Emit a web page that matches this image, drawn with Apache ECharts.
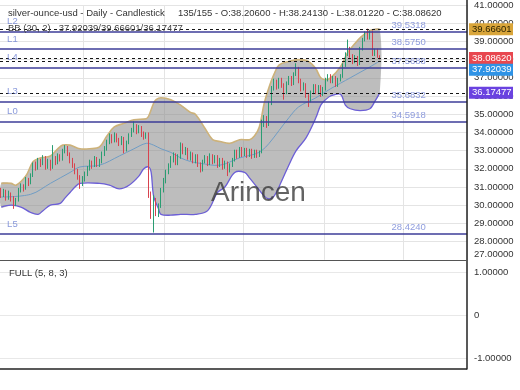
<!DOCTYPE html>
<html><head><meta charset="utf-8">
<script src="https://cdn.jsdelivr.net/npm/echarts@6/dist/echarts.min.js"></script>
<style>html,body{margin:0;padding:0;background:#fff}#c{width:520px;height:390px}</style>
</head><body><div id="c"></div>
<script>
// ---- data ----
const slotCount = 190;
const opens = [30.70,30.55,30.75,30.40,30.62,30.35,30.10,30.25,30.80,31.05,
30.90,31.40,31.25,31.60,32.20,32.05,32.45,32.30,32.60,32.15,
32.40,32.10,32.55,32.35,32.70,32.55,32.95,33.15,32.80,32.45,
32.20,31.85,31.55,31.20,31.45,31.70,32.00,32.35,32.20,32.55,
32.25,32.40,32.80,33.10,33.45,33.80,33.55,33.85,33.60,33.40,
33.65,33.10,33.45,33.85,34.10,34.35,34.05,34.25,33.90,33.75,
33.90,30.60,29.45,30.30,29.60,29.95,30.80,31.35,31.85,32.15,
32.55,32.75,32.30,32.65,33.30,32.90,33.10,32.60,32.80,32.40,
32.70,32.20,31.95,32.40,32.60,32.30,32.70,32.40,32.65,32.20,
32.50,32.10,32.30,31.90,32.20,32.50,32.95,32.70,33.10,32.80,
33.05,32.75,33.00,32.70,32.95,32.75,32.90,34.60,34.80,34.40,
35.60,36.40,36.80,36.50,36.90,36.60,36.20,36.70,37.00,36.70,
37.20,37.50,36.80,36.40,36.60,36.00,35.75,36.20,36.55,36.20,
36.50,36.10,36.40,36.90,37.10,36.80,37.00,36.60,36.90,37.10,
37.70,38.30,38.60,38.20,37.90,38.10,37.80,38.60,39.10,39.40,
39.20,39.50,38.30,38.50,38.206];
const closes = [30.55,30.75,30.40,30.62,30.35,30.10,30.25,30.80,31.05,30.90,
31.40,31.25,31.60,32.20,32.05,32.45,32.30,32.60,32.15,32.40,
32.10,32.55,32.35,32.70,32.55,32.95,33.15,32.80,32.45,32.20,
31.85,31.55,31.20,31.45,31.70,32.00,32.35,32.20,32.55,32.25,
32.40,32.80,33.10,33.45,33.80,33.55,33.85,33.60,33.40,33.65,
33.10,33.45,33.85,34.10,34.35,34.05,34.25,33.90,33.75,33.90,
30.60,29.45,30.30,29.60,29.95,30.80,31.35,31.85,32.15,32.55,
32.75,32.30,32.65,33.30,32.90,33.10,32.60,32.80,32.40,32.70,
32.20,31.95,32.40,32.60,32.30,32.70,32.40,32.65,32.20,32.50,
32.10,32.30,31.90,32.20,32.50,32.95,32.70,33.10,32.80,33.05,
32.75,33.00,32.70,32.95,32.75,32.90,34.60,34.80,34.40,35.60,
36.40,36.80,36.50,36.90,36.60,36.20,36.70,37.00,36.70,37.20,
37.50,36.80,36.40,36.60,36.00,35.75,36.20,36.55,36.20,36.50,
36.10,36.40,36.90,37.10,36.80,37.00,36.60,36.90,37.10,37.70,
38.30,38.60,38.20,37.90,38.10,37.80,38.60,39.10,39.40,39.20,
39.50,38.30,38.50,38.20,38.0862];
const highs = [30.95,30.90,30.85,30.80,30.70,30.50,30.40,30.95,31.20,31.15,
31.55,31.50,31.75,32.35,32.40,32.60,32.55,32.75,32.70,32.55,
32.50,33.30,32.70,32.85,32.80,33.10,33.30,33.25,32.90,32.60,
32.30,32.00,31.65,31.60,31.85,32.15,32.50,32.45,32.70,32.65,
32.55,32.95,33.25,33.60,33.95,33.90,34.00,33.95,33.70,33.80,
33.75,33.55,33.95,34.25,34.60,34.45,34.40,34.35,34.05,34.00,
34.00,30.75,30.55,30.40,30.10,30.95,31.50,31.95,32.30,32.70,
32.90,32.85,32.80,33.45,33.40,33.20,33.15,32.95,32.90,32.80,
32.80,32.35,32.50,32.75,32.70,32.85,32.80,32.75,32.75,32.60,
32.60,32.45,32.40,32.30,32.60,33.05,33.05,33.20,33.20,33.15,
33.15,33.10,33.10,33.05,33.05,33.00,34.70,34.95,34.90,35.70,
36.55,36.95,36.90,37.00,37.00,36.70,36.80,37.10,37.10,37.30,
37.80,37.60,36.95,36.75,36.70,36.10,36.30,36.65,36.65,36.60,
36.60,36.50,37.00,37.20,37.20,37.10,37.10,37.00,37.20,37.80,
38.40,39.10,38.70,38.30,38.25,38.20,38.70,39.20,39.55,39.70,
39.60,39.60,38.60,38.60,38.2413];
const lows = [30.40,30.45,30.25,30.30,30.20,29.80,29.95,30.20,30.70,30.75,
30.85,31.05,31.15,31.55,31.90,31.95,32.10,32.20,31.95,32.00,
31.90,32.00,32.20,32.25,32.40,32.45,32.85,32.70,32.30,32.05,
31.70,31.40,30.90,31.05,31.30,31.60,31.90,32.00,32.10,32.10,
32.10,32.30,32.70,33.00,33.35,33.40,33.45,33.45,33.25,33.30,
32.85,32.95,33.35,33.75,34.00,33.90,33.95,33.75,33.60,33.65,
30.40,29.25,28.50,29.40,29.35,29.85,30.70,31.20,31.70,32.05,
32.35,32.20,32.20,32.55,32.80,32.75,32.50,32.45,32.30,32.30,
32.10,31.80,31.85,32.30,32.15,32.20,32.25,32.30,32.05,32.10,
31.95,32.00,31.60,31.80,32.10,32.40,32.55,32.60,32.65,32.70,
32.60,32.65,32.55,32.60,32.60,32.65,32.85,34.30,34.25,34.35,
35.50,36.30,36.35,36.40,36.45,35.80,36.10,36.60,36.55,36.60,
37.10,36.70,36.25,36.30,35.90,35.40,35.65,36.10,36.10,36.10,
35.95,36.00,36.30,36.80,36.70,36.70,36.50,36.50,36.80,37.00,
37.60,38.20,38.10,37.75,37.80,37.65,37.70,38.50,39.00,39.10,
39.10,38.20,38.20,38.10,38.0122];

// Bollinger band (20,2) at sample candles
const upperIdx = [0,4,6,10,13,16,20,23,25,28,32,36,40,43,46,50,54,59,60,62,63,65,69,73,77,79,83,86,89,93,97,101,103,105,107,109,111,113,117,121,125,128,130,132,134,138,141,144,146,150,154];
const upperVal = [31.2,31.2,31.1,31.6,32.4,32.6,32.7,33.1,33.3,33.3,33.1,33.1,33.2,33.8,34.3,34.5,34.7,34.75,34.9,35.6,35.8,35.9,35.8,35.5,35.1,35.0,34.2,33.6,33.5,33.4,33.6,33.6,33.8,34.3,35.6,36.5,37.2,37.7,37.9,38.0,37.9,37.5,37.0,36.9,37.0,37.6,38.4,38.9,39.2,39.6,39.666];
const lowerIdx = [0,4,8,12,15,17,20,24,26,28,30,32,40,44,48,52,56,58,60,61,62,64,65,69,73,79,84,88,91,95,99,101,104,107,109,111,114,117,120,124,128,130,132,134,138,140,142,146,150,152,154];
const lowerVal = [29.9,30.0,29.9,29.6,29.5,29.7,30.0,30.1,30.4,30.7,31.0,31.2,31.2,31.1,30.9,31.1,31.6,32.0,32.1,31.8,30.5,29.8,29.5,29.45,29.5,29.5,29.7,30.7,31.0,31.8,31.8,31.5,31.0,30.5,30.35,30.5,31.3,32.2,33.0,33.7,34.8,35.5,35.8,36.0,36.1,35.5,35.3,35.2,35.3,35.7,36.175];
const midIdx = [0,12,20,28,32,40,48,54,59,62,65,69,73,77,81,89,97,103,106,109,113,117,121,128,134,138,142,146,150,154];
const midVal = [30.45,30.6,31.2,31.8,32.1,32.2,32.7,33.1,33.4,33.3,33.1,32.9,32.6,32.4,32.3,32.2,32.6,32.8,33.0,33.4,34.1,34.8,35.4,35.9,36.4,36.7,37.0,37.3,37.6,37.92];

// horizontal levels
const levelNames = ['L2','L1','L4','L3','L0','L5'];
const levelValues = [39.5318,38.5750,37.5688,35.6832,34.5918,28.4240];
const levelTexts = ['39.5318','38.5750','37.5688','35.6832','34.5918','28.4240'];
// current values (BB middle/upper/lower, close)
const tagValues = [39.66601,38.08620,37.92039,36.17477];
const tagColors = ['#d9a53a','#e8474f','#2f93e6','#6a42e0'];
const tagText = ['#2a2200','#ffffff','#ffffff','#ffffff'];
const gridSlots = [34,67,99,132,164];
const priceMin = 27, priceMax = 41;
const oscTicks = [-1,0,1];

// ---- chart ----
const FONT = 'Liberation Sans, Arial, sans-serif';
const chart = echarts.init(document.getElementById('c'));
const cats = Array.from({length: slotCount}, (_, i) => String(i));
const candleData = opens.map((o, i) => [o, closes[i], lows[i], highs[i]]);

chart.setOption({
  animation: false,
  grid: [
    {left: 0, right: 53, top: 2, height: 257.8},
    {left: 0, right: 53, top: 272, height: 86}
  ],
  xAxis: [
    {type: 'category', data: cats, gridIndex: 0, boundaryGap: true,
     axisLine: {show: false}, axisTick: {show: false}, axisLabel: {show: false},
     splitLine: {show: true, interval: (i) => gridSlots.includes(i), lineStyle: {color: '#e4e4e4', width: 1}}},
    {type: 'category', data: cats, gridIndex: 1,
     axisLine: {show: false}, axisTick: {show: false}, axisLabel: {show: false}, splitLine: {show: false}}
  ],
  yAxis: [
    {type: 'value', gridIndex: 0, position: 'right', min: priceMin, max: priceMax, interval: 1,
     axisLine: {show: false}, axisTick: {show: false},
     splitLine: {lineStyle: {color: '#e4e4e4', width: 1}},
     axisLabel: {margin: 7, fontSize: 9.5, color: '#333', fontFamily: FONT,
       formatter: v => v.toFixed(5), verticalAlignMinLabel: 'bottom'}},
    {type: 'value', gridIndex: 1, position: 'right', min: -1, max: 1, interval: 1,
     axisLine: {show: false}, axisTick: {show: false},
     splitLine: {lineStyle: {color: '#e8e8e8', width: 1}},
     axisLabel: {margin: 7, fontSize: 9.5, color: '#333', fontFamily: FONT,
       formatter: v => v === 0 ? '0' : v.toFixed(5)}}
  ],
  series: [
    {type: 'custom', xAxisIndex: 0, yAxisIndex: 0, z: 1, silent: true,
     data: upperIdx.map((ix, k) => [ix, upperVal[k]]),
     encode: {x: 0, y: 1},
     renderItem: function (params, api) {
       if (params.dataIndex !== 0) return null;
       const up = upperIdx.map((ix, k) => api.coord([ix, upperVal[k]]));
       const lo = lowerIdx.map((ix, k) => api.coord([ix, lowerVal[k]]));
       const md = midIdx.map((ix, k) => api.coord([ix, midVal[k]]));
       const sm = 0.35;
       return {type: 'group', children: [
         {type: 'polygon', shape: {points: up.concat(lo.slice().reverse()), smooth: sm},
          style: {fill: 'rgba(135,135,135,0.55)', stroke: 'none'}},
         {type: 'polyline', shape: {points: md, smooth: sm}, style: {stroke: '#6f9cc4', lineWidth: 1, fill: 'none'}},
         {type: 'polyline', shape: {points: up, smooth: sm}, style: {stroke: '#cdb27a', lineWidth: 1.6, fill: 'none'}},
         {type: 'polyline', shape: {points: lo, smooth: sm}, style: {stroke: '#6c5fd6', lineWidth: 1.3, fill: 'none'}}
       ]};
     }},
    {type: 'candlestick', xAxisIndex: 0, yAxisIndex: 0, z: 3, data: candleData, barMaxWidth: 1.8,
     itemStyle: {color: '#2a9d72', color0: '#d8434f', borderColor: '#2a9d72', borderColor0: '#d8434f', borderWidth: 1},
     markLine: {symbol: 'none', silent: true, label: {show: false},
       data: levelValues.map(v => ({yAxis: v, lineStyle: {color: '#3d3d99', width: 1.5, type: 'solid'}}))
         .concat(tagValues.map(v => ({yAxis: v, lineStyle: {color: '#151515', width: 1, type: [3, 3]}})))}},
    {type: 'scatter', xAxisIndex: 0, yAxisIndex: 0, z: 6, symbolSize: 1, silent: true,
     itemStyle: {color: 'transparent'},
     data: levelValues.map((v, k) => ({value: [3, v], label: {formatter: levelNames[k]}})),
     label: {show: true, position: [-1, -9.5], align: 'left', verticalAlign: 'middle', color: '#6c7fd2', fontSize: 9.5, fontFamily: FONT}},
    {type: 'scatter', xAxisIndex: 0, yAxisIndex: 0, z: 6, symbolSize: 1, silent: true,
     itemStyle: {color: 'transparent'},
     data: levelValues.map((v, k) => ({value: [159, v], label: {formatter: levelTexts[k]}})),
     label: {show: true, position: [0, -6], align: 'left', verticalAlign: 'middle', color: '#7385d6', fontSize: 9.5, fontFamily: FONT}},
    {type: 'line', xAxisIndex: 1, yAxisIndex: 1, data: [], showSymbol: false}
  ]
});

// value tags on the right axis, positioned through the axis scale
const tags = tagValues.map((v, k) => ({v, k, y: chart.convertToPixel({yAxisIndex: 0}, v)}))
  .sort((a, b) => a.y - b.y);
for (let i = 1; i < tags.length; i++) {
  if (tags[i].y < tags[i - 1].y + 11.8) tags[i].y = tags[i - 1].y + 11.8;
}
const tagGraphics = [];
tags.forEach(t => {
  tagGraphics.push({type: 'rect', shape: {x: 469, y: t.y - 6, width: 44, height: 12}, style: {fill: tagColors[t.k]}, z: 20});
  tagGraphics.push({type: 'text', x: 472, y: t.y, z: 21,
    style: {text: t.v.toFixed(5), fill: tagText[t.k], font: '9.5px ' + FONT, verticalAlign: 'middle', align: 'left'}});
});

chart.setOption({
  graphic: [
    {type: 'line', shape: {x1: 467, y1: 0, x2: 467, y2: 369.5}, style: {stroke: '#222', lineWidth: 1.5}, z: 10},
    {type: 'line', shape: {x1: 0, y1: 260.5, x2: 467, y2: 260.5}, style: {stroke: '#555', lineWidth: 1}, z: 10},
    {type: 'line', shape: {x1: 0, y1: 369, x2: 467, y2: 369}, style: {stroke: '#222', lineWidth: 1.5}, z: 10},
    {type: 'text', x: 8, y: 13, z: 12, style: {text: 'silver-ounce-usd - Daily - Candlestick', fill: '#333', font: '9.5px ' + FONT, verticalAlign: 'middle'}},
    {type: 'text', x: 178, y: 13, z: 12, style: {text: '135/155 - O:38.20600 - H:38.24130 - L:38.01220 - C:38.08620', fill: '#333', font: '9.5px ' + FONT, verticalAlign: 'middle'}},
    {type: 'text', x: 8, y: 28.5, z: 12, style: {text: 'BB (20, 2)   37.92039/39.66601/36.17477', fill: '#444', font: '9.5px ' + FONT, verticalAlign: 'middle'}},
    {type: 'text', x: 9, y: 273, z: 12, style: {text: 'FULL (5, 8, 3)', fill: '#333', font: '9.5px ' + FONT, verticalAlign: 'middle'}},
    {type: 'text', x: 211, y: 193, z: 12, style: {text: 'Arincen', fill: 'rgba(60,60,60,0.8)', font: '28px ' + FONT, verticalAlign: 'middle'}}
  ].concat(tagGraphics)
});
</script></body></html>
